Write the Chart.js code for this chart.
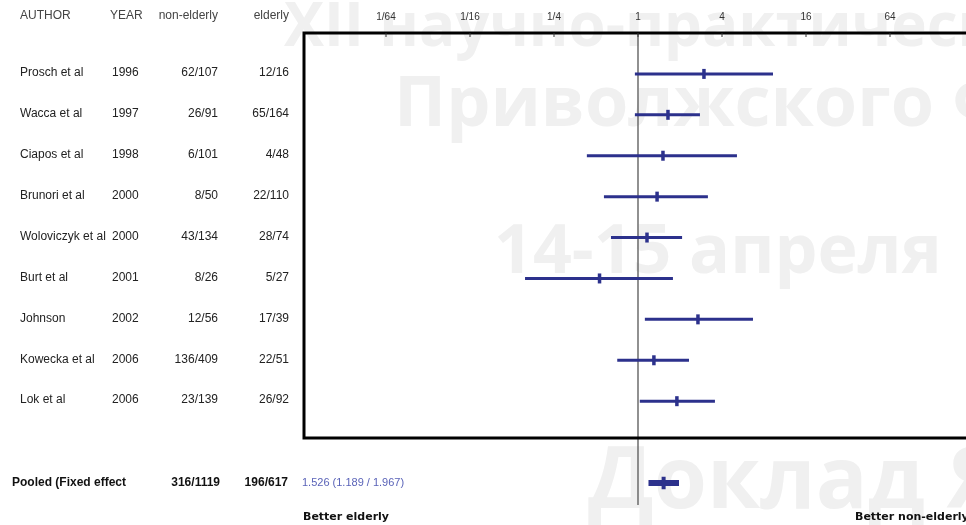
<!DOCTYPE html>
<html>
<head>
<meta charset="utf-8">
<script src="https://cdn.jsdelivr.net/npm/chart.js@4"></script>
<style>
html, body { margin: 0; padding: 0; background: #fff; }
#wrap { width: 966px; height: 525px; position: relative; }
</style>
</head>
<body>
<div id="wrap"><canvas id="forestChart" width="966" height="525"></canvas></div>
<script>
// studies (top to bottom)
const authors = ['Prosch et al', 'Wacca et al', 'Ciapos et al', 'Brunori et al', 'Woloviczyk et al',
                 'Burt et al', 'Johnson', 'Kowecka et al', 'Lok et al'];
const years = ['1996', '1997', '1998', '2000', '2000', '2001', '2002', '2006', '2006'];
const nonElderly = ['62/107', '26/91', '6/101', '8/50', '43/134', '8/26', '12/56', '136/409', '23/139'];
const elderly = ['12/16', '65/164', '4/48', '22/110', '28/74', '5/27', '17/39', '22/51', '26/92'];

// odds ratio and confidence limits
const ratio = [2.97, 1.64, 1.51, 1.37, 1.16, 0.53, 2.69, 1.30, 1.90];
const lower = [0.95, 0.95, 0.43, 0.57, 0.64, 0.155, 1.12, 0.71, 1.03];
const upper = [9.28, 2.78, 5.12, 3.17, 2.07, 1.78, 6.67, 2.32, 3.56];

// pooled row
const pooledLabel = 'Pooled (Fixed effect';
const pooledNonElderly = '316/1119';
const pooledElderly = '196/617';
const pooledRatio = 1.526;
const pooledLower = 1.189;
const pooledUpper = 1.967;
const pooledText = '1.526 (1.189 / 1.967)';

// top axis
const tickValues = [1 / 64, 1 / 16, 1 / 4, 1, 4, 16, 64];
const tickLabels = ['1/64', '1/16', '1/4', '1', '4', '16', '64'];

const navy = '#2c318c';
const pooledRow = authors.length + 2;

const datasets = [];
authors.forEach((a, i) => {
  datasets.push({
    label: a,
    data: [{ x: lower[i], y: i + 1 }, { x: upper[i], y: i + 1 }],
    showLine: true,
    borderColor: navy,
    borderWidth: 3,
    pointRadius: 0,
    order: 2,
    clip: false
  });
});
datasets.push({
  label: 'estimate',
  data: ratio.map((r, i) => ({ x: r, y: i + 1 })),
  showLine: false,
  pointStyle: 'line',
  pointRotation: 90,
  pointRadius: 5,
  pointBorderWidth: 3.5,
  borderColor: navy,
  order: 0,
  clip: false
});
datasets.push({
  label: 'pooled',
  data: [{ x: pooledLower, y: pooledRow }, { x: pooledUpper, y: pooledRow }],
  showLine: true,
  borderColor: navy,
  borderWidth: 6,
  pointRadius: 0,
  order: 2,
  clip: false
});
// pooled row sits below the box, outside the chart area, so its marker is a short vertical line
datasets.push({
  label: 'pooled estimate',
  data: [{ x: pooledRatio, y: pooledRow - 0.15 }, { x: pooledRatio, y: pooledRow + 0.15 }],
  showLine: true,
  borderColor: navy,
  borderWidth: 4,
  pointRadius: 0,
  order: 0,
  clip: false
});

const forestDecor = {
  id: 'forestDecor',
  beforeDatasetsDraw(chart) {
    const { ctx, chartArea: area, scales: { x } } = chart;
    ctx.save();
    // reference line at 1
    const x1 = x.getPixelForValue(1);
    ctx.strokeStyle = '#555';
    ctx.lineWidth = 1.3;
    ctx.beginPath();
    ctx.moveTo(x1, area.top);
    ctx.lineTo(x1, 505);
    ctx.stroke();
    // box
    ctx.strokeStyle = '#000';
    ctx.lineWidth = 3;
    ctx.beginPath();
    ctx.moveTo(area.right + 5, area.top);
    ctx.lineTo(area.left, area.top);
    ctx.lineTo(area.left, area.bottom);
    ctx.lineTo(area.right + 5, area.bottom);
    ctx.stroke();
    // ticks + labels
    ctx.strokeStyle = '#333';
    ctx.lineWidth = 1;
    ctx.fillStyle = '#333';
    ctx.font = '10px "Liberation Sans", Arial, sans-serif';
    ctx.textAlign = 'center';
    ctx.textBaseline = 'middle';
    tickValues.forEach((v, i) => {
      const px = x.getPixelForValue(v);
      ctx.beginPath();
      ctx.moveTo(px, area.top);
      ctx.lineTo(px, area.top + 4);
      ctx.stroke();
      ctx.fillText(tickLabels[i], px, 17);
    });
    ctx.restore();
  },
  afterDraw(chart) {
    const { ctx, scales: { y } } = chart;
    ctx.save();
    ctx.textBaseline = 'middle';
    // header
    ctx.font = '12px "Liberation Sans", Arial, sans-serif';
    ctx.fillStyle = '#444';
    ctx.textAlign = 'left';
    ctx.fillText('AUTHOR', 20, 16);
    ctx.fillText('YEAR', 110, 16);
    ctx.textAlign = 'right';
    ctx.fillText('non-elderly', 218, 16);
    ctx.fillText('elderly', 289, 16);
    // study rows
    ctx.fillStyle = '#222';
    authors.forEach((a, i) => {
      const py = y.getPixelForValue(i + 1) - 1;
      ctx.textAlign = 'left';
      ctx.fillText(a, 20, py);
      ctx.fillText(years[i], 112, py);
      ctx.textAlign = 'right';
      ctx.fillText(nonElderly[i], 218, py);
      ctx.fillText(elderly[i], 289, py);
    });
    // pooled row
    const pp = y.getPixelForValue(pooledRow);
    ctx.font = 'bold 12px "Liberation Sans", Arial, sans-serif';
    ctx.fillStyle = '#111';
    ctx.textAlign = 'left';
    ctx.fillText(pooledLabel, 12, pp);
    ctx.textAlign = 'right';
    ctx.fillText(pooledNonElderly, 220, pp);
    ctx.fillText(pooledElderly, 288, pp);
    ctx.textAlign = 'left';
    ctx.font = '11px "Liberation Sans", Arial, sans-serif';
    ctx.fillStyle = '#5a63b8';
    ctx.fillText(pooledText, 302, pp);
    // favours labels
    ctx.font = 'bold 11px "DejaVu Sans", sans-serif';
    ctx.fillStyle = '#111';
    ctx.fillText('Better elderly', 303, 517);
    ctx.fillText('Better non-elderly', 855, 517);
    // watermark
    ctx.globalCompositeOperation = 'darken';
    ctx.fillStyle = '#f0f0f0';
    ctx.textBaseline = 'alphabetic';
    ctx.font = 'bold 60px "Open Sans", sans-serif';
    ctx.fillText('XII научно-практической', 284, 46);
    ctx.font = 'bold 70px "Open Sans", sans-serif';
    ctx.fillText('Приволжского Федерального', 394, 126);
    ctx.font = 'bold 68px "Open Sans", sans-serif';
    ctx.fillText('14-15 апреля', 494, 273);
    ctx.font = 'bold 86px "Open Sans", sans-serif';
    ctx.fillText('Доклад Я', 588, 508);
    ctx.restore();
  }
};

new Chart(document.getElementById('forestChart'), {
  type: 'scatter',
  data: { datasets },
  options: {
    responsive: false,
    animation: false,
    devicePixelRatio: 1,
    layout: { autoPadding: false, padding: { left: 304, right: 0, top: 33, bottom: 87 } },
    plugins: { legend: { display: false }, tooltip: { enabled: false } },
    scales: {
      x: {
        type: 'logarithmic',
        display: false,
        bounds: 'data',
        min: Math.pow(2, -334 / 42),
        max: Math.pow(2, 328 / 42)
      },
      y: {
        type: 'linear',
        display: false,
        reverse: true,
        bounds: 'data',
        min: 0,
        max: 9.9
      }
    }
  },
  plugins: [forestDecor]
});
</script>
</body>
</html>
